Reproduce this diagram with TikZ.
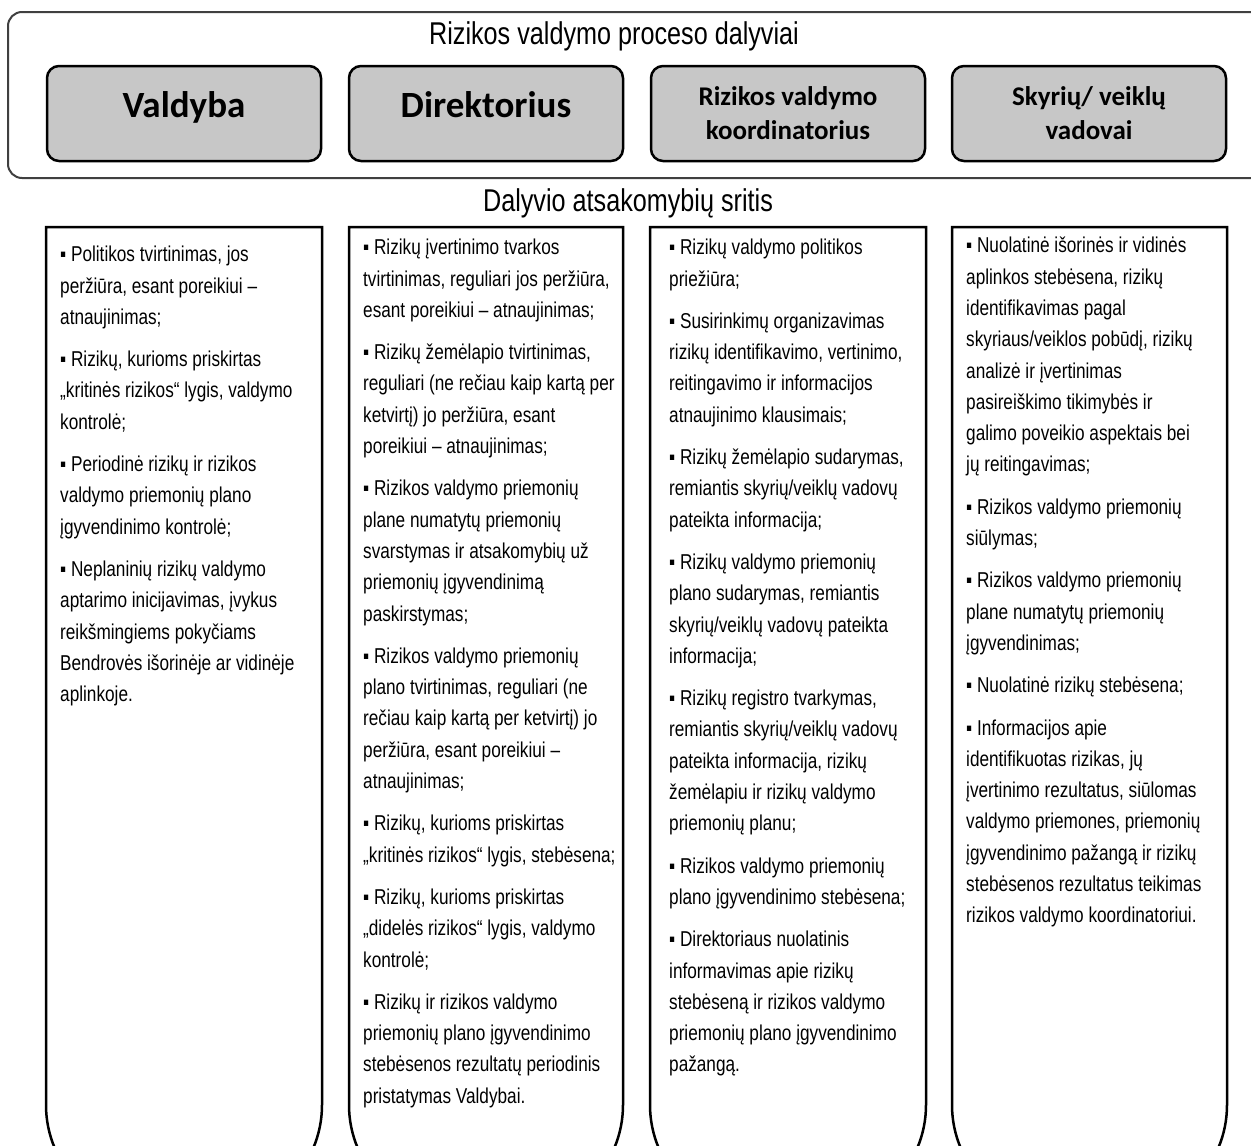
\documentclass[tikz,border=0pt]{standalone}
\usepackage{fontspec}
\setmainfont{Liberation Sans}[FakeStretch=0.8]
\newfontfamily\headfont{Carlito}

\tikzset{
    participant/.style={draw=black, line width=2.5pt, fill=black!22, rounded corners=12pt,
        minimum width=274pt, minimum height=95pt, align=center, inner sep=2pt,
        font=\headfont\bfseries\fontsize{27}{34}\selectfont},
    bigname/.style={font=\headfont\bfseries\fontsize{37}{40}\selectfont,
        text height=30pt, text depth=22pt},
    heading/.style={font=\fontsize{31.5}{36}\selectfont, inner sep=0pt},
    colframe/.style={draw=black, line width=2.5pt, fill=white},
    duties/.style={anchor=north west, align=left, inner sep=0pt,
        font=\fontsize{21.5}{31.3}\selectfont},
}

\begin{document}
\begin{tikzpicture}[x=1pt, y=1pt]

\useasboundingbox (0,0) rectangle (1251,-1146);
\clip (0,0) rectangle (1251,-1146);

% participants
\draw[draw=black!75, line width=2pt, fill=white, rounded corners=14pt] (8,-12) rectangle (1290,-178);
\node[heading] (dalyviai) at (614,-36) {Rizikos valdymo proceso dalyviai};

\node[participant, bigname] (valdyba) at (184,-113.5) {Valdyba};
\node[participant, bigname] (direktorius) at (486,-113.5) {Direktorius};
\node[participant] (koordinatorius) at (788,-113.5) {Rizikos valdymo\\koordinatorius};
\node[participant] (vadovai) at (1089,-113.5) {Skyrių/ veiklų\\vadovai};

% responsibilities
\node[heading] (sritis) at (628,-203) {Dalyvio atsakomybių sritis};

\draw[colframe] (46,-227) -- (46,-1105) arc[start angle=180, end angle=270, radius=110pt]
    -- (212,-1215) arc[start angle=270, end angle=360, radius=110pt] -- (322,-227) -- cycle;
\draw[colframe] (349,-227) -- (349,-1105) arc[start angle=180, end angle=270, radius=110pt]
    -- (513,-1215) arc[start angle=270, end angle=360, radius=110pt] -- (623,-227) -- cycle;
\draw[colframe] (650,-227) -- (650,-1105) arc[start angle=180, end angle=270, radius=110pt]
    -- (816,-1215) arc[start angle=270, end angle=360, radius=110pt] -- (926,-227) -- cycle;
\draw[colframe] (952,-227) -- (952,-1105) arc[start angle=180, end angle=270, radius=110pt]
    -- (1117,-1215) arc[start angle=270, end angle=360, radius=110pt] -- (1227,-227) -- cycle;

\begin{scope}[every node/.style={duties}]
    % Valdyba
    \node (valdyba-sritis) at (60,-246) {%
        ▪ Politikos tvirtinimas, jos\\
        peržiūra, esant poreikiui –\\
        atnaujinimas;\\[11pt]
        ▪ Rizikų, kurioms priskirtas\\
        „kritinės rizikos“ lygis, valdymo\\
        kontrolė;\\[11pt]
        ▪ Periodinė rizikų ir rizikos\\
        valdymo priemonių plano\\
        įgyvendinimo kontrolė;\\[11pt]
        ▪ Neplaninių rizikų valdymo\\
        aptarimo inicijavimas, įvykus\\
        reikšmingiems pokyčiams\\
        Bendrovės išorinėje ar vidinėje\\
        aplinkoje.};
    % Direktorius
    \node (direktorius-sritis) at (363,-239) {%
        ▪ Rizikų įvertinimo tvarkos\\
        tvirtinimas, reguliari jos peržiūra,\\
        esant poreikiui – atnaujinimas;\\[11pt]
        ▪ Rizikų žemėlapio tvirtinimas,\\
        reguliari (ne rečiau kaip kartą per\\
        ketvirtį) jo peržiūra, esant\\
        poreikiui – atnaujinimas;\\[11pt]
        ▪ Rizikos valdymo priemonių\\
        plane numatytų priemonių\\
        svarstymas ir atsakomybių už\\
        priemonių įgyvendinimą\\
        paskirstymas;\\[11pt]
        ▪ Rizikos valdymo priemonių\\
        plano tvirtinimas, reguliari (ne\\
        rečiau kaip kartą per ketvirtį) jo\\
        peržiūra, esant poreikiui –\\
        atnaujinimas;\\[11pt]
        ▪ Rizikų, kurioms priskirtas\\
        „kritinės rizikos“ lygis, stebėsena;\\[11pt]
        ▪ Rizikų, kurioms priskirtas\\
        „didelės rizikos“ lygis, valdymo\\
        kontrolė;\\[11pt]
        ▪ Rizikų ir rizikos valdymo\\
        priemonių plano įgyvendinimo\\
        stebėsenos rezultatų periodinis\\
        pristatymas Valdybai.};
    % koordinatorius
    \node (koordinatorius-sritis) at (669,-239) {%
        ▪ Rizikų valdymo politikos\\
        priežiūra;\\[11pt]
        ▪ Susirinkimų organizavimas\\
        rizikų identifikavimo, vertinimo,\\
        reitingavimo ir informacijos\\
        atnaujinimo klausimais;\\[11pt]
        ▪ Rizikų žemėlapio sudarymas,\\
        remiantis skyrių/veiklų vadovų\\
        pateikta informacija;\\[11pt]
        ▪ Rizikų valdymo priemonių\\
        plano sudarymas, remiantis\\
        skyrių/veiklų vadovų pateikta\\
        informacija;\\[11pt]
        ▪ Rizikų registro tvarkymas,\\
        remiantis skyrių/veiklų vadovų\\
        pateikta informacija, rizikų\\
        žemėlapiu ir rizikų valdymo\\
        priemonių planu;\\[11pt]
        ▪ Rizikos valdymo priemonių\\
        plano įgyvendinimo stebėsena;\\[11pt]
        ▪ Direktoriaus nuolatinis\\
        informavimas apie rizikų\\
        stebėseną ir rizikos valdymo\\
        priemonių plano įgyvendinimo\\
        pažangą.};
    % vadovai
    \node (vadovai-sritis) at (966,-237) {%
        ▪ Nuolatinė išorinės ir vidinės\\
        aplinkos stebėsena, rizikų\\
        identifikavimas pagal\\
        skyriaus/veiklos pobūdį, rizikų\\
        analizė ir įvertinimas\\
        pasireiškimo tikimybės ir\\
        galimo poveikio aspektais bei\\
        jų reitingavimas;\\[11pt]
        ▪ Rizikos valdymo priemonių\\
        siūlymas;\\[11pt]
        ▪ Rizikos valdymo priemonių\\
        plane numatytų priemonių\\
        įgyvendinimas;\\[11pt]
        ▪ Nuolatinė rizikų stebėsena;\\[11pt]
        ▪ Informacijos apie\\
        identifikuotas rizikas, jų\\
        įvertinimo rezultatus, siūlomas\\
        valdymo priemones, priemonių\\
        įgyvendinimo pažangą ir rizikų\\
        stebėsenos rezultatus teikimas\\
        rizikos valdymo koordinatoriui.};
\end{scope}

\end{tikzpicture}
\end{document}
